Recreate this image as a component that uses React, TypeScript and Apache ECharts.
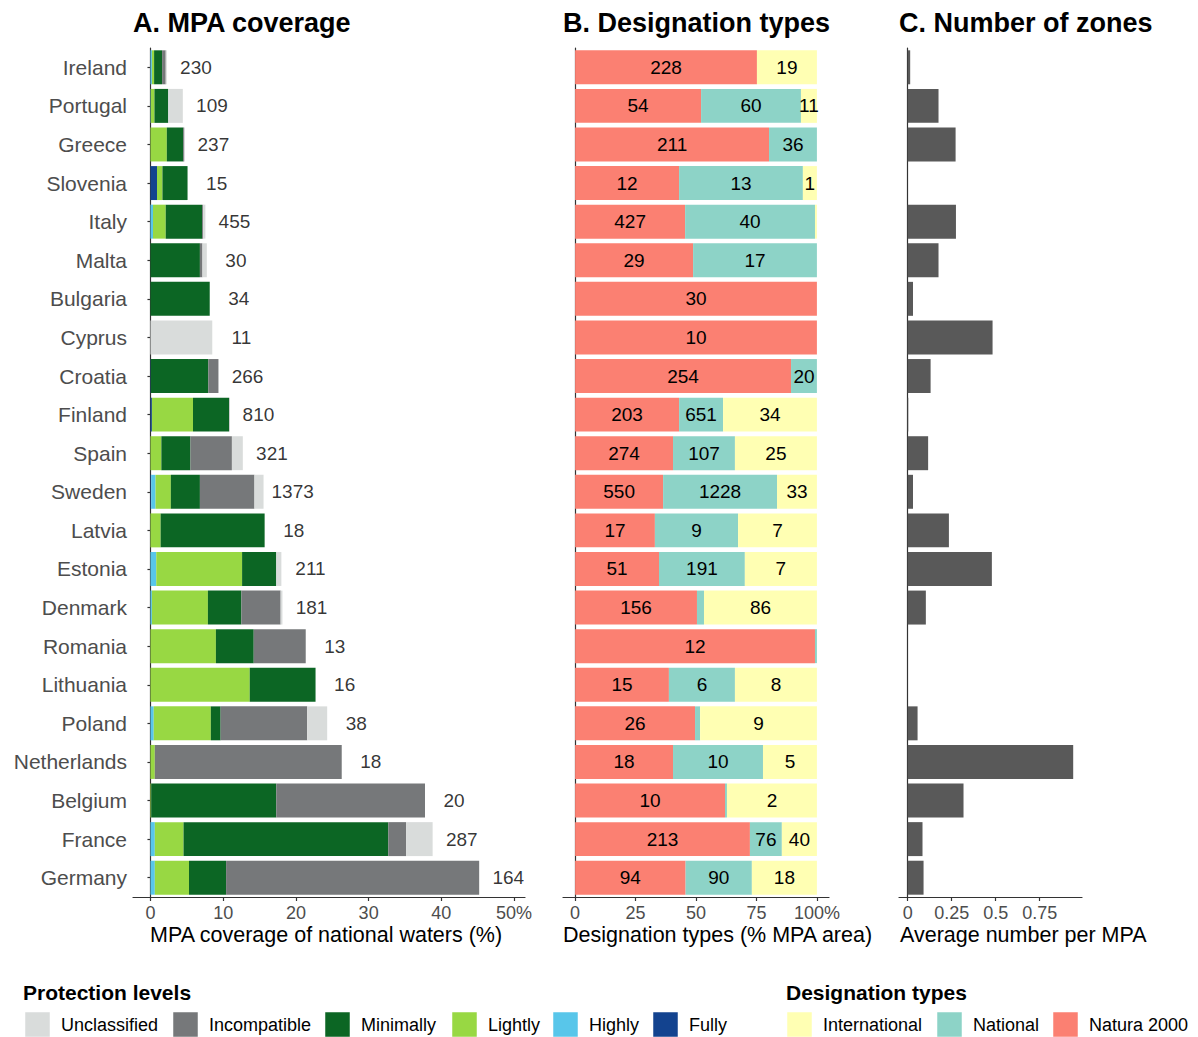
import React, { useEffect, useRef } from 'react';
import * as echarts from 'echarts';

const countries = ['Ireland', 'Portugal', 'Greece', 'Slovenia', 'Italy', 'Malta', 'Bulgaria', 'Cyprus', 'Croatia', 'Finland', 'Spain', 'Sweden', 'Latvia', 'Estonia', 'Denmark', 'Romania', 'Lithuania', 'Poland', 'Netherlands', 'Belgium', 'France', 'Germany'];

// Panel A: MPA coverage of national waters (%), by protection level
const fully = [0, 0, 0, 0.9, 0, 0, 0, 0, 0.05, 0.2, 0, 0.1, 0, 0, 0, 0, 0, 0, 0, 0, 0, 0];
const highly = [0.2, 0.05, 0, 0, 0.35, 0, 0, 0, 0, 0, 0, 0.6, 0, 0.8, 0.2, 0, 0, 0.45, 0, 0, 0.6, 0.6];
const lightly = [0.3, 0.5, 2.25, 0.75, 1.75, 0, 0, 0, 0, 5.65, 1.5, 2.1, 1.4, 11.8, 7.7, 9.0, 13.65, 7.85, 0.6, 0.1, 3.95, 4.7];
const minimally = [1.1, 1.9, 2.25, 3.45, 5.0, 6.8, 8.15, 0, 7.9, 4.95, 4.0, 4.0, 14.3, 4.7, 4.6, 5.2, 9.05, 1.35, 0, 17.2, 28.15, 5.1];
const incompatible = [0.5, 0, 0.15, 0, 0.15, 0.35, 0, 0, 1.4, 0.05, 5.7, 7.5, 0, 0, 5.4, 7.15, 0, 11.9, 25.7, 20.45, 2.45, 34.8];
const unclassified = [0.15, 2.0, 0, 0, 0.3, 0.6, 0, 8.5, 0, 0, 1.5, 1.25, 0, 0.7, 0.25, 0, 0, 2.75, 0, 0, 3.65, 0];
const mpaCount = [230, 109, 237, 15, 455, 30, 34, 11, 266, 810, 321, 1373, 18, 211, 181, 13, 16, 38, 18, 20, 287, 164];

// Panel B: designation types (% of MPA area) and counts
const naturaPct = [75.2, 52.1, 80.2, 43, 45.5, 48.8, 100, 100, 89.3, 43, 40.5, 36.4, 33, 34.7, 50.4, 99.2, 38.8, 49.6, 40.5, 62, 72.3, 45.7];
const nationalPct = [0, 41.3, 19.8, 51.2, 53.7, 51.2, 0, 0, 10.7, 18.2, 25.6, 47.1, 34.4, 35.5, 2.9, 0.8, 27.3, 2.1, 37.2, 0.8, 13.2, 27.4];
const internationalPct = [24.8, 6.6, 0, 5.8, 0.8, 0, 0, 0, 0, 38.8, 33.9, 16.5, 32.6, 29.8, 46.7, 0, 33.9, 48.3, 22.3, 37.2, 14.5, 26.9];
const naturaN = [228, 54, 211, 12, 427, 29, 30, 10, 254, 203, 274, 550, 17, 51, 156, 12, 15, 26, 18, 10, 213, 94];
const nationalN = [null, 60, 36, 13, 40, 17, null, null, 20, 651, 107, 1228, 9, 191, null, null, 6, null, 10, null, 76, 90];
const internationalN = [19, 11, null, 1, null, null, null, null, null, 34, 25, 33, 7, 7, 86, null, 8, 9, 5, 2, 40, 18];

// Panel C: average number of zones per MPA
const zonesPerMpa = [0.014, 0.175, 0.272, 0, 0.274, 0.175, 0.03, 0.482, 0.13, 0.003, 0.116, 0.03, 0.234, 0.478, 0.103, 0, 0, 0.056, 0.94, 0.317, 0.084, 0.09];

const ticksA = [0, 10, 20, 30, 40, 50];
const ticksB = [0, 25, 50, 75, 100];
const ticksC = [0, 0.25, 0.5, 0.75];

const protectionNames = ['Unclassified', 'Incompatible', 'Minimally', 'Lightly', 'Highly', 'Fully'];
const protectionColors = ['#d9dcdb', '#76787a', '#0c6624', '#98d843', '#58c6ea', '#13438f'];
const designationNames = ['International', 'National', 'Natura 2000'];
const designationColors = ['#ffffb3', '#8dd3c7', '#fb8072'];

const FONT = '"Liberation Sans", Arial, sans-serif';

export default function App() {
  const ref = useRef<HTMLDivElement>(null);
  useEffect(() => {
    document.body.style.margin = '0';
    const chart = echarts.init(ref.current!, null, { renderer: 'svg' });

    const gridTop = 48;
    const gridH = 849;
    const grids = [
      { left: 133, top: gridTop, width: 392, height: gridH },
      { left: 563, top: gridTop, width: 266, height: gridH },
      { left: 899, top: gridTop, width: 183, height: gridH },
    ].map((g) => ({ ...g, outerBoundsMode: 'none', containLabel: false }));

    const axisLineStyle = { color: '#333333', width: 1.2 };
    const tickLabel = { color: '#4d4d4d', fontSize: 18, fontFamily: FONT, margin: 7 };

    const xAxes = [
      { min: -2.4, max: 51.5, vals: ticksA, fmt: (v: number) => (v === 50 ? '50%' : String(v)) },
      { min: -5, max: 105, vals: ticksB, fmt: (v: number) => (v === 100 ? '100%' : String(v)) },
      { min: -0.0495, max: 0.99, vals: ticksC, fmt: (v: number) => String(v) },
    ].map((a, i) => ({
      type: 'value',
      gridIndex: i,
      min: a.min,
      max: a.max,
      splitLine: { show: false },
      axisLine: { show: true, onZero: false, lineStyle: axisLineStyle },
      axisTick: { show: true, length: 4, lineStyle: axisLineStyle, customValues: a.vals },
      axisLabel: { ...tickLabel, customValues: a.vals, formatter: a.fmt, showMinLabel: true, showMaxLabel: true },
    }));

    const yAxes = [0, 1, 2].map((i) => ({
      type: 'category',
      gridIndex: i,
      data: countries,
      inverse: true,
      axisLine: { show: true, lineStyle: axisLineStyle },
      axisTick: { show: i === 0, length: 3, alignWithLabel: true, lineStyle: axisLineStyle },
      axisLabel: { show: i === 0, color: '#4d4d4d', fontSize: 21, fontFamily: FONT, margin: 6 },
      splitLine: { show: false },
    }));

    const stackA = [
      { name: 'Fully', data: fully, color: protectionColors[5] },
      { name: 'Highly', data: highly, color: protectionColors[4] },
      { name: 'Lightly', data: lightly, color: protectionColors[3] },
      { name: 'Minimally', data: minimally, color: protectionColors[2] },
      { name: 'Incompatible', data: incompatible, color: protectionColors[1] },
      { name: 'Unclassified', data: unclassified, color: protectionColors[0] },
    ];
    const totals = countries.map((_, i) => stackA.reduce((s, d) => s + d.data[i], 0));

    const series: any[] = [];
    stackA.forEach((s) => {
      series.push({
        type: 'bar',
        name: s.name,
        stack: 'a',
        xAxisIndex: 0,
        yAxisIndex: 0,
        barWidth: '88%',
        data: s.data,
        itemStyle: { color: s.color },
      });
    });
    series.push({
      type: 'scatter',
      xAxisIndex: 0,
      yAxisIndex: 0,
      symbolSize: 1,
      itemStyle: { color: 'rgba(0,0,0,0)' },
      data: countries.map((c, i) => [totals[i] + 4, c]),
      label: {
        show: true,
        position: 'inside',
        color: '#000',
        fontSize: 19,
        fontFamily: FONT,
        formatter: (p: any) => String(mpaCount[p.dataIndex]),
      },
    });

    const stackB = [
      { name: 'Natura 2000', data: naturaPct, n: naturaN, color: designationColors[2] },
      { name: 'National', data: nationalPct, n: nationalN, color: designationColors[1] },
      { name: 'International', data: internationalPct, n: internationalN, color: designationColors[0] },
    ];
    stackB.forEach((s) => {
      series.push({
        type: 'bar',
        name: s.name,
        stack: 'b',
        xAxisIndex: 1,
        yAxisIndex: 1,
        barWidth: '88%',
        data: s.data,
        itemStyle: { color: s.color },
        label: {
          show: true,
          position: 'inside',
          color: '#000',
          fontSize: 19,
          fontFamily: FONT,
          formatter: (p: any) => {
            const v = s.n[p.dataIndex];
            return v == null ? '' : String(v);
          },
        },
      });
    });

    series.push({
      type: 'bar',
      xAxisIndex: 2,
      yAxisIndex: 2,
      barWidth: '88%',
      data: zonesPerMpa,
      itemStyle: { color: '#595959' },
    });

    const graphic: any[] = [];
    const titles = [
      { text: 'A. MPA coverage', x: 133 },
      { text: 'B. Designation types', x: 563 },
      { text: 'C. Number of zones', x: 899 },
    ];
    titles.forEach((t) =>
      graphic.push({
        type: 'text',
        x: t.x,
        y: 23,
        style: { text: t.text, font: `bold 27px ${FONT}`, fill: '#000', textVerticalAlign: 'middle', textAlign: 'left' },
      })
    );
    const axisTitles = [
      { text: 'MPA coverage of national waters (%)', x: 150 },
      { text: 'Designation types (% MPA area)', x: 563 },
      { text: 'Average number per MPA', x: 900 },
    ];
    axisTitles.forEach((t) =>
      graphic.push({
        type: 'text',
        x: t.x,
        y: 935,
        style: { text: t.text, font: `21.5px ${FONT}`, fill: '#000', textVerticalAlign: 'middle', textAlign: 'left' },
      })
    );

    // Legends
    const legendHeaders = [
      { text: 'Protection levels', x: 23 },
      { text: 'Designation types', x: 786 },
    ];
    legendHeaders.forEach((t) =>
      graphic.push({
        type: 'text',
        x: t.x,
        y: 992,
        style: { text: t.text, font: `bold 21px ${FONT}`, fill: '#000', textVerticalAlign: 'middle', textAlign: 'left' },
      })
    );
    const legendBoxX = [25, 173, 325, 452, 553, 653, 787, 937, 1053];
    const legendNames = [...protectionNames, ...designationNames];
    const legendColors = [...protectionColors, ...designationColors];
    legendNames.forEach((name, i) => {
      graphic.push({
        type: 'rect',
        shape: { x: legendBoxX[i], y: 1012, width: 25, height: 25 },
        style: { fill: legendColors[i], stroke: '#ffffff', lineWidth: 0.5 },
      });
      graphic.push({
        type: 'text',
        x: legendBoxX[i] + 36,
        y: 1025,
        style: { text: name, font: `18px ${FONT}`, fill: '#000', textVerticalAlign: 'middle', textAlign: 'left' },
      });
    });

    chart.setOption({
      animation: false,
      backgroundColor: '#ffffff',
      textStyle: { fontFamily: FONT },
      grid: grids,
      xAxis: xAxes,
      yAxis: yAxes,
      series,
      graphic,
    });
    return () => chart.dispose();
  }, []);
  return <div ref={ref} style={{ width: 1198, height: 1037 }} />;
}
